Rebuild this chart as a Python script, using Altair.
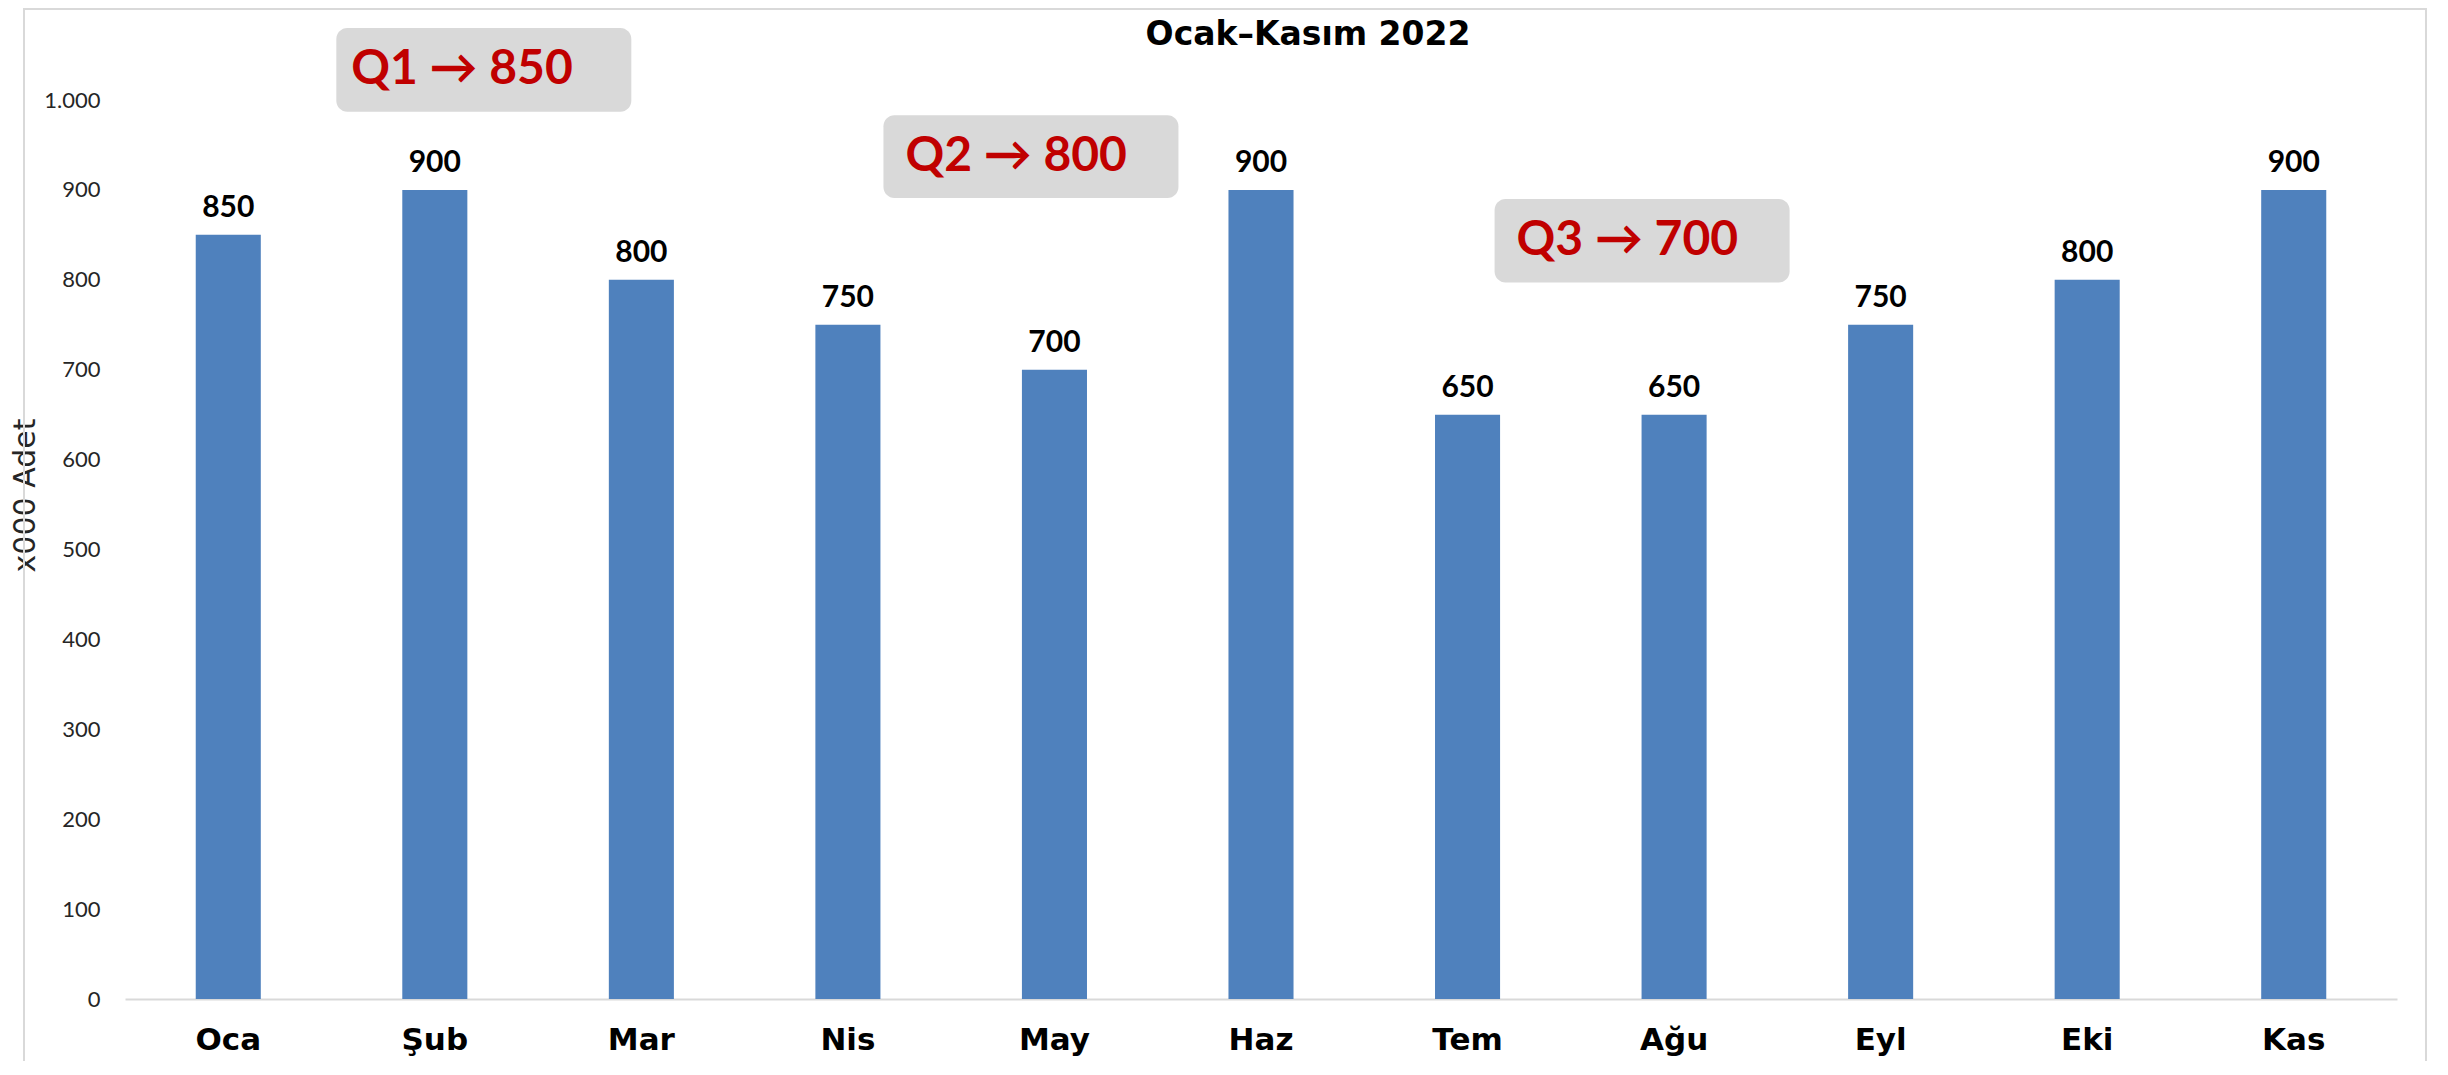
import altair as alt
import pandas as pd

# ---- data ----
months = ["Oca", "Şub", "Mar", "Nis", "May", "Haz", "Tem", "Ağu", "Eyl", "Eki", "Kas"]
values = [850, 900, 800, 750, 700, 900, 650, 650, 750, 800, 900]

quarters = ["Q1", "Q2", "Q3"]
quarter_avgs = [850, 800, 700]
quarter_mid_month = ["Şub", "May", "Ağu"]
# annotation box extent, in data units of the value axis
box_top = [1080, 983, 890]
box_bottom = [987, 891, 797]

y_ticks = [0, 100, 200, 300, 400, 500, 600, 700, 800, 900, 1000]

df = pd.DataFrame({"month": months, "value": values})

FONT = "Lato"
WIDE = "DejaVu Sans"
BAR_COLOR = "#4F81BD"

x_scale = alt.Scale(domain=months, paddingInner=0.685, paddingOuter=0.3425)
y_scale = alt.Scale(domain=[0, 1000], nice=False)

x_enc = alt.X(
    "month:N",
    scale=x_scale,
    sort=months,
    axis=alt.Axis(
        title=None,
        labelAngle=0,
        labelFont=WIDE,
        labelFontSize=31,
        labelFontWeight="bold",
        labelColor="black",
        labelPadding=26,
        ticks=False,
        domainColor="#d9d9d9",
        domainWidth=2,
    ),
)
y_enc = alt.Y(
    "value:Q",
    scale=y_scale,
    axis=alt.Axis(
        values=y_ticks,
        labelExpr="replace(format(datum.value, ','), ',', '.')",
        labelFont=FONT,
        labelFontSize=22,
        labelColor="#262626",
        labelPadding=25,
        ticks=False,
        domain=False,
        grid=False,
        title="x000 Adet",
        titleFont=WIDE,
        titleFontSize=30,
        titleFontWeight="normal",
        titleColor="#262626",
        titleAngle=-90,
        titleX=-100,
        titleY=395,
        titleAlign="center",
        titleBaseline="middle",
    ),
)

bars = alt.Chart(df).mark_bar(color=BAR_COLOR).encode(x=x_enc, y=y_enc)

labels = alt.Chart(df).mark_text(
    font=FONT, fontSize=30, fontWeight="bold", color="black", baseline="bottom", dy=-12
).encode(x=alt.X("month:N", scale=x_scale, sort=months), y=alt.Y("value:Q", scale=y_scale), text="value:Q")

layers = [bars, labels]

# pixel offsets of the annotation boxes / texts relative to the quarter's middle month
box_dx = [49, -23.5, -32]
text_dx = [-83.5, -149, -157.5]
for i in range(len(quarters)):
    adf = pd.DataFrame({
        "month": [quarter_mid_month[i]],
        "top": [box_top[i]],
        "bottom": [box_bottom[i]],
        "mid": [(box_top[i] + box_bottom[i]) / 2],
        "label": [f"{quarters[i]} → {quarter_avgs[i]}"],
    })
    box = alt.Chart(adf).mark_bar(
        color="#d9d9d9", width=295, cornerRadius=11, xOffset=box_dx[i]
    ).encode(
        x=alt.X("month:N", scale=x_scale, sort=months),
        y=alt.Y("top:Q", scale=y_scale),
        y2="bottom:Q",
    )
    txt = alt.Chart(adf).mark_text(
        font=FONT, fontSize=48, fontWeight="bold", color="#C00000",
        align="left", baseline="middle", xOffset=text_dx[i]
    ).encode(
        x=alt.X("month:N", scale=x_scale, sort=months),
        y=alt.Y("mid:Q", scale=y_scale),
        text="label:N",
    )
    layers += [box, txt]

# decorative outer frame of the chart
frame = alt.Chart(df).mark_rect(fill=None, stroke="#d9d9d9", strokeWidth=2).encode(
    x=alt.value(-101), x2=alt.value(2301), y=alt.value(-91), y2=alt.value(990)
)
layers = [frame] + layers

chart = alt.layer(*layers).properties(
    width=2272,
    height=899,
    title=alt.TitleParams(
        "Ocak–Kasım 2022",
        font=WIDE,
        fontSize=33,
        fontWeight="bold",
        color="black",
        anchor="middle",
        frame="group",
        baseline="alphabetic",
        dx=47,
        dy=35,
        offset=-35,
    ),
    autosize=alt.AutoSizeParams(type="none"),
    padding={"left": 117, "top": 92, "right": 35, "bottom": 62},
).configure(background="white").configure_view(stroke=None)

chart.save("out.html", embed_options={"renderer": "svg", "actions": False})
